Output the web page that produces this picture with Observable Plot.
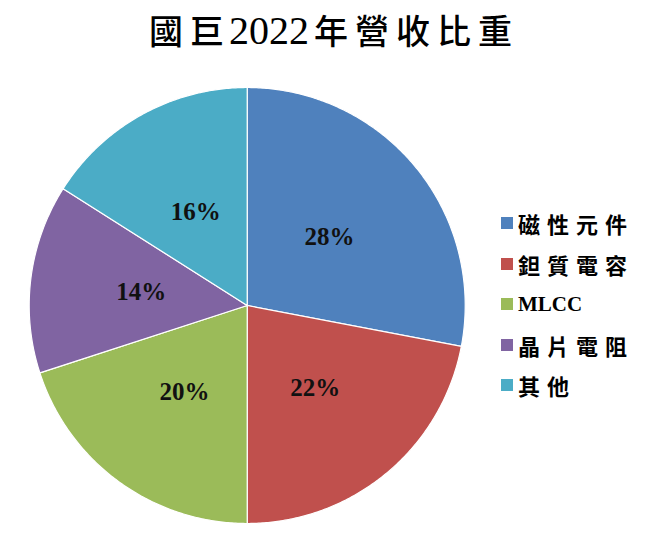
<!DOCTYPE html>
<html><head><meta charset="utf-8">
<script src="https://cdn.jsdelivr.net/npm/d3@7"></script>
<script src="https://cdn.jsdelivr.net/npm/@observablehq/plot@0.6"></script>
<style>
body{margin:0;background:#fff;}
#wrap{position:relative;width:668px;height:535px;overflow:hidden;}
#title{position:absolute;left:0;top:0;width:668px;height:62px;line-height:62px;text-align:center;font-family:"Liberation Serif","Noto Sans CJK TC";font-size:34px;letter-spacing:7px;font-weight:500;color:#000;white-space:nowrap;}
#title .num{font-size:40px;letter-spacing:0;margin-right:5px;margin-left:-2px;}
#chart{position:absolute;left:0;top:70px;}
#legend{position:absolute;left:501px;top:203px;font-family:"Liberation Serif","Noto Sans CJK TC";font-weight:bold;font-size:22px;letter-spacing:7px;color:#000;}
.row{display:flex;align-items:center;height:40.5px;}
.sw{width:12px;height:12px;margin-right:5px;flex:none;}
.latin{letter-spacing:0;font-size:21px;}
</style></head>
<body><div id="wrap"><div id="title">國巨<span class="num">2022</span>年營收比重</div><div id="chart"></div><div id="legend"></div></div>
<script>
const categories = ["磁性元件","鉭質電容","MLCC","晶片電阻","其他"];
const values = [28, 22, 20, 14, 16];
const labels = ["28%","22%","20%","14%","16%"];
const colors = ["#4F81BD","#C0504D","#9BBB59","#8064A2","#4BACC6"];

const data = categories.map((name, i) => ({name, value: values[i], label: labels[i]}));
const arcs = d3.pie().sort(null).value(d => d.value)(data);

const slicePoints = [];
for (const a of arcs) {
  const name = a.data.name;
  slicePoints.push({name, x: 0, y: 0});
  const n = Math.max(2, Math.ceil((a.endAngle - a.startAngle) / (Math.PI / 360)));
  for (let k = 0; k <= n; k++) {
    const t = a.startAngle + (a.endAngle - a.startAngle) * k / n;
    slicePoints.push({name, x: Math.sin(t), y: Math.cos(t)});
  }
  slicePoints.push({name, x: 0, y: 0});
}
const labelR = 0.49;
const labelData = arcs.map(a => {
  const t = (a.startAngle + a.endAngle) / 2;
  return {label: a.data.label, x: labelR * Math.sin(t), y: labelR * Math.cos(t)};
});

const R = 218, cx = 246.7, cy = 235;
const W = 668, H = 465;
const chart = Plot.plot({
  width: W, height: H,
  marginLeft: cx - R, marginRight: W - (cx + R),
  marginTop: cy - R, marginBottom: H - (cy + R),
  x: {domain: [-1, 1], axis: null},
  y: {domain: [-1, 1], axis: null},
  color: {domain: categories, range: colors},
  style: {background: "#fff"},
  marks: [
    Plot.line(slicePoints, {x: "x", y: "y", z: "name", fill: "name", stroke: "#fff", strokeWidth: 1.2, strokeLinejoin: "round"}),
    Plot.text(labelData, {x: "x", y: "y", text: "label", fontSize: 25, fontWeight: "bold", fontFamily: "Liberation Serif", fill: "#111"})
  ]
});
document.getElementById("chart").appendChild(chart);

const legend = document.getElementById("legend");
categories.forEach((c, i) => {
  const row = document.createElement("div");
  row.className = "row";
  const sw = document.createElement("div");
  sw.className = "sw";
  sw.style.background = colors[i];
  const tx = document.createElement("span");
  tx.textContent = c;
  if (/^[A-Za-z]+$/.test(c)) tx.className = "latin";
  row.appendChild(sw); row.appendChild(tx);
  legend.appendChild(row);
});
</script>
</body></html>
